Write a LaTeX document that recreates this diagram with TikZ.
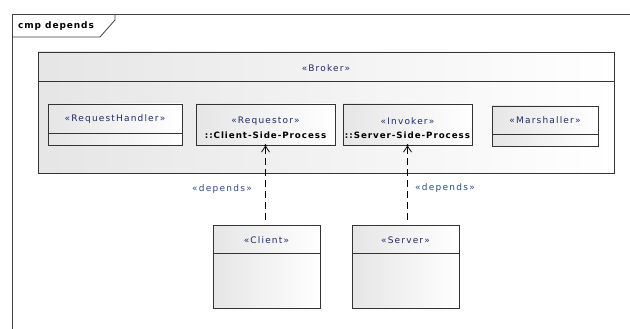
\documentclass[tikz,border=0pt]{standalone}
\usepackage{fontspec}
\setmainfont{DejaVu Sans}
\usetikzlibrary{arrows.meta,shadows}
\definecolor{stereo}{HTML}{1F2A6B}
\definecolor{lblblue}{HTML}{2A4A8A}
\begin{document}
\begin{tikzpicture}[x=1pt,y=-1pt,
  umlbox/.style={draw=black!80,line width=0.8pt,left color=black!10,right color=white,inner sep=0pt,
    drop shadow={shadow xshift=1.2pt,shadow yshift=-1.2pt,opacity=0.35}},
  stereotxt/.style={text=stereo,font=\fontsize{9}{9}\selectfont\addfontfeature{LetterSpace=13},inner sep=0pt},
  nametxt/.style={text=black,font=\fontsize{8.7}{9}\selectfont\bfseries\addfontfeature{LetterSpace=11},inner sep=0pt},
  dep/.style={draw=black,line width=0.8pt,dash pattern=on 7pt off 4pt,-{Straight Barb[length=6pt,width=8pt,line width=0.8pt]}},
  deplbl/.style={text=lblblue,font=\fontsize{9}{9}\selectfont\addfontfeature{LetterSpace=14},inner sep=0pt}]
\useasboundingbox (0,0) rectangle (630,329);
% frame
\draw[black!75,line width=0.8pt] (12,329) -- (12,14) -- (630,14);
\draw[black!75,line width=0.8pt] (12,37) -- (100,37) -- (115,20) -- (115,14);
\node[anchor=west,font=\fontsize{9}{9}\selectfont\bfseries\addfontfeature{LetterSpace=10},inner sep=0pt] (title) at (18,26) {cmp depends};
% broker
\node[umlbox,minimum width=576,minimum height=121] (broker) at (326,112.5) {};
\draw[black!80,line width=0.8pt] (38,81) -- (614,81);
\node[stereotxt] (brokerlbl) at (326,68) {«Broker»};
% request handler
\node[umlbox,minimum width=134,minimum height=41] (rh) at (115,124.5) {};
\draw[black!80,line width=0.8pt] (48,133) -- (182,133);
\node[stereotxt] (rhlbl) at (115,119) {«RequestHandler»};
% requestor
\node[umlbox,minimum width=139,minimum height=41] (req) at (265.5,124.5) {};
\node[stereotxt] (reqlbl) at (265.5,121) {«Requestor»};
\node[nametxt] (reqname) at (265.5,135) {::Client-Side-Process};
% invoker
\node[umlbox,minimum width=129,minimum height=41] (inv) at (407.5,124.5) {};
\node[stereotxt] (invlbl) at (407.5,121) {«Invoker»};
\node[nametxt] (invname) at (407.5,135) {::Server-Side-Process};
% marshaller
\node[umlbox,minimum width=106,minimum height=40] (mar) at (545,126) {};
\draw[black!80,line width=0.8pt] (492,134) -- (598,134);
\node[stereotxt] (marlbl) at (545,120) {«Marshaller»};
% client
\node[umlbox,minimum width=107,minimum height=83] (client) at (266.5,266.5) {};
\draw[black!80,line width=0.8pt] (213,253) -- (320,253);
\node[stereotxt] (clientlbl) at (266.5,240) {«Client»};
% server
\node[umlbox,minimum width=107,minimum height=83] (server) at (405.5,266.5) {};
\draw[black!80,line width=0.8pt] (352,253) -- (459,253);
\node[stereotxt] (serverlbl) at (405.5,240) {«Server»};
% dependencies
\draw[dep,shorten <=5pt] (client.north -| req.south) -- (req.south);
\draw[dep,shorten <=5pt] (server.north -| inv.south) -- (inv.south);
\fill (req.south) circle (1.2pt);
\fill (inv.south) circle (1.2pt);
\node[deplbl] (dep1) at (222,189) {«depends»};
\node[deplbl] (dep2) at (445,188) {«depends»};
\end{tikzpicture}
\end{document}
